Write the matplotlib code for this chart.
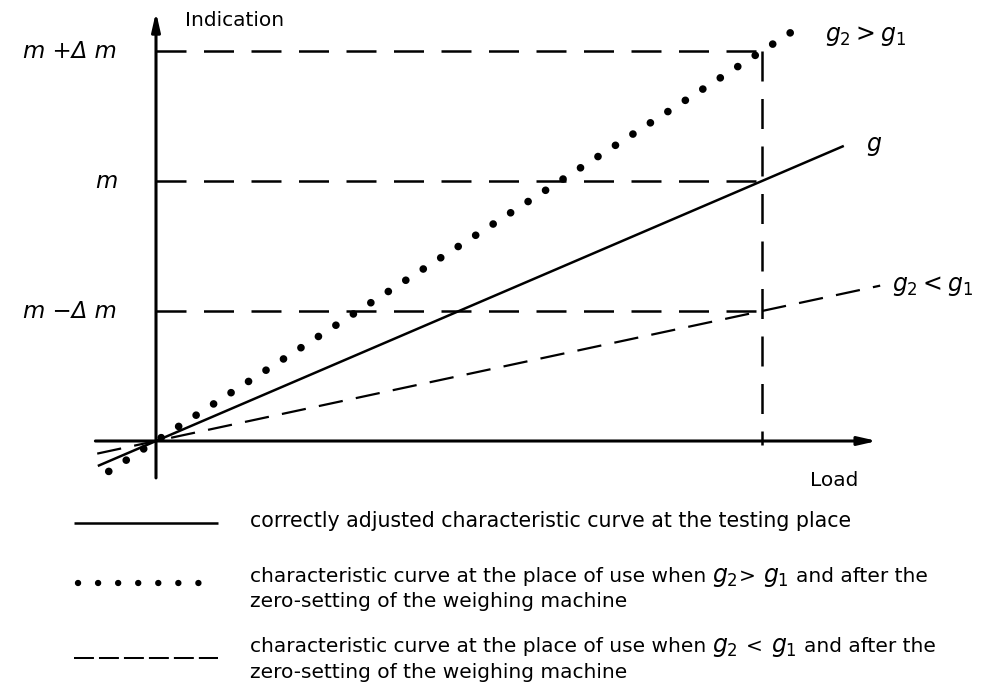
import matplotlib
matplotlib.use("Agg")
import matplotlib.pyplot as plt

plt.rcParams['font.family'] = ['DejaVu Sans']
plt.rcParams['mathtext.fontset'] = 'dejavusans'

W, H = 982, 684

# reference load (vertical dashed line) and the indication levels
load_ref = 1.0
levels = [1.5, 1.0, 0.5]
level_labels = ["m +\u0394 m", "m", "m \u2212\u0394 m"]

# characteristic curves: g, g2 > g1, g2 < g1 (indication = slope * load)
curve_slopes = [1.0, 1.5, 0.5]
curve_x0 = [-0.096, -0.078, -0.097]
curve_x1 = [1.135, 1.058, 1.195]
curve_labels = ["$g$", "$g_2 > g_1$", "$g_2 < g_1$"]

legend_line1 = "correctly adjusted characteristic curve at the testing place"
legend_prefix = "characteristic curve at the place of use when"
legend_suffix = "and after the"
legend_tail = "zero-setting of the weighing machine"


def P(x, y):
    # pixel position in the picture -> figure fraction
    return x / W, 1 - y / H


fig = plt.figure(figsize=(W / 100, H / 100), dpi=100)
ax = fig.add_axes([0, 0, 1, 1])
# origin at pixel (156, 441); 606 px per load unit, 260 px per indication unit
ax.set_xlim(-156 / 606, (W - 156) / 606)
ax.set_ylim((441 - H) / 260, 441 / 260)
ax.axis('off')

# axes with arrow heads
arrow = dict(arrowstyle='-|>,head_length=1.1,head_width=0.25', lw=2.2,
             color='k', shrinkA=0, shrinkB=0)
ax.annotate('', xy=(0, 1.65), xytext=(0, -0.142), arrowprops=arrow)
ax.annotate('', xy=(1.19, 0), xytext=(-0.1, 0), arrowprops=arrow)

# dashed reference lines
ref_style = dict(color='k', lw=1.8, linestyle=(0, (12, 7)), dash_capstyle='butt')
for lv in levels:
    ax.plot([0, load_ref], [lv, lv], **ref_style)
ax.plot([load_ref, load_ref], [max(levels), -0.015], **ref_style)

# the three characteristic curves
s, x0, x1 = curve_slopes[0], curve_x0[0], curve_x1[0]
ax.plot([x0, x1], [s * x0, s * x1], color='k', lw=1.8, solid_capstyle='butt')
s, x0, x1 = curve_slopes[1], curve_x0[1], curve_x1[1]
ax.plot([x0, x1], [s * x0, s * x1], color='k', lw=5.5,
        linestyle=(0, (0.01, 2.71)), dash_capstyle='round')
s, x0, x1 = curve_slopes[2], curve_x0[2], curve_x1[2]
ax.plot([x0, x1], [s * x0, s * x1], color='k', lw=1.6,
        linestyle=(0, (11, 6)), dash_capstyle='butt')

# labels on the diagram
for lv, lab in zip(levels, level_labels):
    ax.text(-0.064, lv, lab, ha='right', va='center', fontsize=16.5,
            fontstyle='italic')
fig.text(*P(185, 20), "Indication", ha='left', va='center', fontsize=14.5)
fig.text(*P(810, 480), "Load", ha='left', va='center', fontsize=14.5)
fig.text(*P(866, 146), curve_labels[0], ha='left', va='center', fontsize=17)
fig.text(*P(825, 36), curve_labels[1], ha='left', va='center', fontsize=17)
fig.text(*P(892, 286), curve_labels[2], ha='left', va='center', fontsize=17)

# legend keys
lx = [74 / W, 218 / W]
ax.plot(lx, [1 - 523 / H] * 2, color='k', lw=1.8, transform=fig.transFigure,
        clip_on=False, solid_capstyle='butt')
ax.plot([78 / W, 218 / W], [1 - 583 / H] * 2, color='k', lw=4.6,
        linestyle=(0, (0.01, 3.13)), dash_capstyle='round',
        transform=fig.transFigure, clip_on=False)
ax.plot(lx, [1 - 658 / H] * 2, color='k', lw=1.45, linestyle=(0, (9.9, 2.5)),
        dash_capstyle='butt', transform=fig.transFigure, clip_on=False)

# legend texts
renderer = fig.canvas.get_renderer()


def text_run(x, y, parts):
    for txt, size, gap in parts:
        t = fig.text(*P(x, y), txt, fontsize=size, va='baseline', ha='left')
        x += t.get_window_extent(renderer).width + gap


fig.text(*P(250, 527), legend_line1, fontsize=14.8, va='baseline')
text_run(250, 582, [(legend_prefix, 14.5, 6), ("$g_2$", 17, 1), (">", 14.5, 7),
                    ("$g_1$", 17, 7), (legend_suffix, 14.5, 0)])
fig.text(*P(250, 607), legend_tail, fontsize=14.5, va='baseline')
text_run(250, 652, [(legend_prefix, 14.5, 6), ("$g_2$", 17, 8), ("<", 14.5, 8),
                    ("$g_1$", 17, 7), (legend_suffix, 14.5, 0)])
fig.text(*P(250, 678), legend_tail, fontsize=14.5, va='baseline')

fig.savefig("out.png", dpi=100)
